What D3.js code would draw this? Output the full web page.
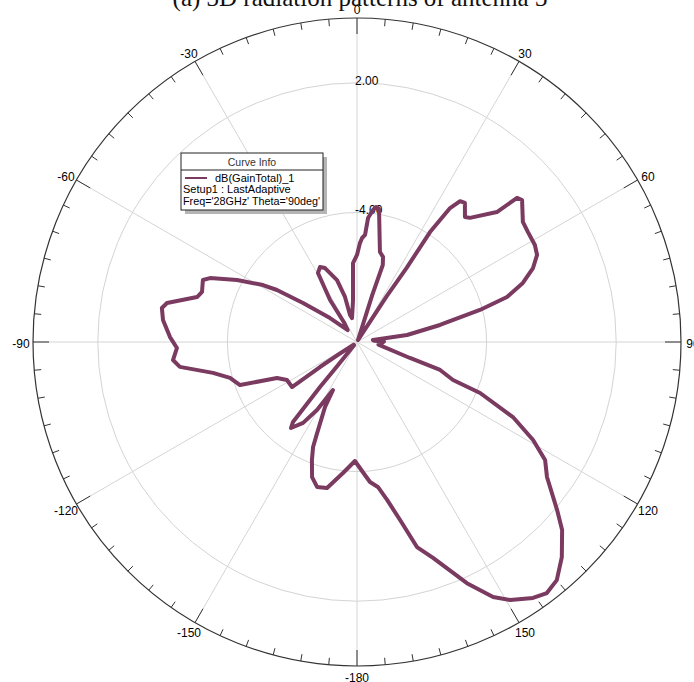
<!DOCTYPE html>
<html><head><meta charset="utf-8">
<script src="https://cdn.jsdelivr.net/npm/d3@7"></script>
<style>body{margin:0;background:#fff}svg{display:block}</style>
</head><body>
<script>
// ---- data (angle in degrees, 0 = top, clockwise; gain in dB) ----
const angleDeg = [-179.0,-173.9,-168.4,-164.6,-161.6,-159.1,-157.3,-156.5,-153.8,-153.4,-149.5,-146.3,-142.5,-141.3,-140.6,-140.5,-137,-128,-124,-124,-124.7,-118.5,-114.2,-110.2,-105.8,-102.1,-98.0,-95.6,-91.9,-88.5,-83.5,-80.1,-78.4,-74.3,-72.1,-68.1,-66.5,-62.7,-58.8,-57.0,-54.2,-48.4,-38,-33.5,-32.7,-29.5,-26.3,-23.4,-17.9,-14.9,-14.5,-11.8,-5.4,-2.9,0,1.7,2.8,4.3,5.1,6.9,8.0,9.4,14.3,17.0,18.5,18.0,19.5,26,33.0,33.8,33.6,34.8,36.2,37.8,40.8,42.3,47.1,48.0,49.3,54.1,57.2,61.4,64.2,67.2,70.4,73.3,75.4,78.4,82.0,82.9,86,89,93,97,106.8,108.6,111.6,112.5,115.7,119.1,122.1,125.4,130.0,132.5,136.4,140.0,142.9,145.5,149.3,151.9,155.5,160.6,163.7,166.4,169.2,171.8,174.7,176.6,181.0];
const gainDb = [-4.49,-3.90,-3.10,-3.04,-3.41,-4.15,-4.73,-5.30,-6.65,-7.51,-6.35,-5.50,-4.98,-5.26,-7.30,-8.52,-9.8,-9.8,-8.9,-7.93,-6.34,-6.31,-5.94,-4.23,-3.89,-3.18,-1.72,-1.44,-1.66,-1.34,-0.96,-0.83,-1.02,-2.31,-2.46,-2.31,-2.58,-3.75,-4.91,-5.58,-6.92,-8.33,-9.3,-8.9,-7.69,-6.33,-6.13,-6.27,-6.99,-7.84,-8.71,-8.87,-8.05,-6.34,-5.97,-5.42,-5.18,-5.03,-4.24,-3.84,-3.69,-3.76,-5.70,-5.88,-6.24,-7.72,-9.5,-9.9,-7.5,-5.87,-3.89,-2.45,-1.92,-1.85,-2.35,-2.23,-1.16,-0.03,0.08,-0.52,-0.59,-0.62,-0.74,-1.16,-1.85,-2.75,-4.12,-6.08,-7.66,-9.26,-9.2,-8.75,-8.85,-9.0,-7.44,-5.94,-5.22,-3.83,-1.99,-0.67,0.28,0.79,2.09,2.88,3.75,4.39,4.57,4.38,3.89,3.38,2.27,0.60,-0.11,-1.52,-2.56,-3.22,-3.49,-3.83,-4.49];
const angleTicks = [0,30,60,90,120,150,180,-150,-120,-90,-60,-30];
const angleTickLabels = ["0","30","60","90","120","150","-180","-150","-120","-90","-60","-30"];
const ringValues = [-4, 2];
const ringLabels = ["-4.00", "2.00"];
const dbMin = -10, dbMax = 5;
const legendTitle = "Curve Info";
const legendLines = ["dB(GainTotal)_1", "Setup1 : LastAdaptive", "Freq='28GHz' Theta='90deg'"];
const chartTitle = "(a) 3D radiation patterns of antenna 3";

// ---- layout ----
const W = 694, H = 682, cx = 357, cy = 342, R = 324;
const curveColor = "#7b3a60";
const rad = d => d * Math.PI / 180;

const svg = d3.select("body").append("svg").attr("width", W).attr("height", H)
  .style("font-family", "'Liberation Sans', Arial, sans-serif");
const r = d3.scaleLinear().domain([dbMin, dbMax]).range([0, R]).clamp(true);
const g = svg.append("g").attr("transform", `translate(${cx},${cy})`);

// rings
g.selectAll("circle.ring").data(ringValues).join("circle").attr("class", "ring")
  .attr("r", d => r(d)).attr("fill", "none").attr("stroke", "#d4d4d4").attr("stroke-width", 1);

// spokes
g.selectAll("line.spoke").data(d3.range(0, 360, 30)).join("line").attr("class", "spoke")
  .attr("x1", 0).attr("y1", 0)
  .attr("x2", d => r(dbMax) * Math.sin(rad(d))).attr("y2", d => -r(dbMax) * Math.cos(rad(d)))
  .attr("stroke", "#d4d4d4").attr("stroke-width", 1);

// outer circle
g.append("circle").attr("r", r(dbMax)).attr("fill", "none").attr("stroke", "#333").attr("stroke-width", 1.2);

// ticks every 5 degrees
g.selectAll("line.tick").data(d3.range(0, 360, 5)).join("line").attr("class", "tick")
  .attr("x1", d => R * Math.sin(rad(d))).attr("y1", d => -R * Math.cos(rad(d)))
  .attr("x2", d => (R - (d % 30 === 0 ? 16 : 7)) * Math.sin(rad(d)))
  .attr("y2", d => -(R - (d % 30 === 0 ? 16 : 7)) * Math.cos(rad(d)))
  .attr("stroke", "#333").attr("stroke-width", 1);

// angle labels
g.selectAll("text.alab").data(angleTicks).join("text").attr("class", "alab")
  .attr("x", d => 336 * Math.sin(rad(d))).attr("y", d => -334 * Math.cos(rad(d)) + 1.5)
  .attr("text-anchor", "middle").attr("dominant-baseline", "central")
  .attr("font-size", 12).attr("fill", "#000")
  .text((d, i) => angleTickLabels[i]);

// ring labels
g.selectAll("text.rlab").data(ringValues).join("text").attr("class", "rlab")
  .attr("x", -2).attr("y", d => -r(d) - 2)
  .attr("dominant-baseline", "central").attr("font-size", 12).attr("fill", "#000")
  .text((d, i) => ringLabels[i]);

// curve
const pts = angleDeg.map((a, i) => [rad(a), r(gainDb[i])]);
g.append("path").datum(pts)
  .attr("d", d3.lineRadial().angle(d => d[0]).radius(d => d[1]).curve(d3.curveLinearClosed))
  .attr("fill", "none").attr("stroke", curveColor).attr("stroke-width", 4)
  .attr("stroke-linejoin", "round");

// legend
const lg = svg.append("g").attr("transform", "translate(181,153)");
lg.append("rect").attr("x", 4).attr("y", 4).attr("width", 142).attr("height", 57).attr("fill", "#b5b5b5");
lg.append("rect").attr("x", 0).attr("y", 0).attr("width", 142).attr("height", 57)
  .attr("fill", "#fff").attr("stroke", "#222").attr("stroke-width", 1);
lg.append("text").attr("x", 71).attr("y", 9).attr("text-anchor", "middle").attr("dominant-baseline", "central")
  .attr("font-size", 10.5).attr("fill", "#333").text(legendTitle);
lg.append("line").attr("x1", 0).attr("x2", 142).attr("y1", 17).attr("y2", 17).attr("stroke", "#222");
lg.append("line").attr("x1", 4).attr("x2", 26).attr("y1", 25).attr("y2", 25).attr("stroke", curveColor).attr("stroke-width", 2);
lg.append("text").attr("x", 34).attr("y", 25).attr("dominant-baseline", "central").attr("font-size", 11).attr("fill", "#000").text(legendLines[0]);
lg.append("text").attr("x", 2).attr("y", 36).attr("dominant-baseline", "central").attr("font-size", 11).attr("fill", "#000").text(legendLines[1]);
lg.append("text").attr("x", 2).attr("y", 47.5).attr("dominant-baseline", "central").attr("font-size", 11).attr("fill", "#000")
  .attr("textLength", 137).attr("lengthAdjust", "spacingAndGlyphs").text(legendLines[2]);

// title (partially clipped at top as in reference)
svg.append("text").attr("x", 360).attr("y", 6).attr("text-anchor", "middle")
  .attr("font-family", "'Liberation Serif', 'Times New Roman', serif").attr("font-size", 25).attr("fill", "#111")
  .text(chartTitle);
</script>
</body></html>
